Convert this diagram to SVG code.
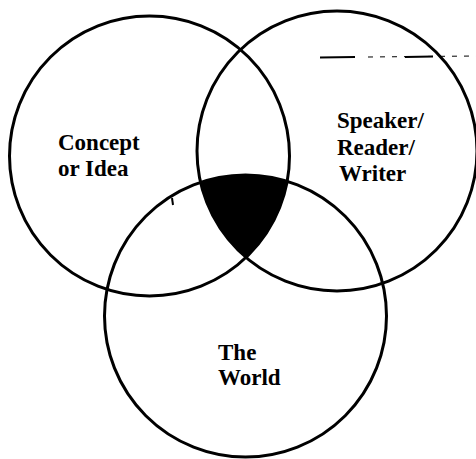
<svg xmlns="http://www.w3.org/2000/svg" width="476" height="459" viewBox="0 0 476 459">
<style>
.c{fill:none;stroke:#000;stroke-width:3}
.t{font-family:"Liberation Serif",serif;font-size:23px;fill:#000;font-weight:bold}
</style>
<defs>
<clipPath id="clipL"><circle cx="149.5" cy="156" r="140"/></clipPath>
<clipPath id="clipR"><circle cx="337" cy="151" r="140"/></clipPath>
</defs>
<rect width="476" height="459" fill="#fff"/>
<g id="overlap" clip-path="url(#clipL)">
<g clip-path="url(#clipR)">
<circle cx="245.5" cy="316" r="141" fill="#000"/>
</g>
</g>
<g id="concept">
<circle class="c" cx="149.5" cy="156" r="140"/>
<text class="t" x="58" y="150">Concept</text>
<text class="t" x="58" y="176">or Idea</text>
</g>
<g id="speaker">
<circle class="c" cx="337" cy="151" r="140"/>
<text class="t" x="337" y="128">Speaker/</text>
<text class="t" x="337" y="155">Reader/</text>
<text class="t" x="339" y="181">Writer</text>
</g>
<g id="world">
<circle class="c" cx="245.5" cy="316" r="141"/>
<text class="t" x="218" y="360">The</text>
<text class="t" x="218" y="385">World</text>
</g>
<g id="connectors">
<line x1="320" y1="57.5" x2="355" y2="57" stroke="#000" stroke-width="2"/>
<line x1="368" y1="57" x2="476" y2="56" stroke="#000" stroke-width="1" stroke-dasharray="5,7"/>
<line x1="405" y1="57" x2="433" y2="56.5" stroke="#000" stroke-width="2.2"/>
<line x1="172" y1="198" x2="173" y2="205" stroke="#000" stroke-width="2"/>
</g>
</svg>
